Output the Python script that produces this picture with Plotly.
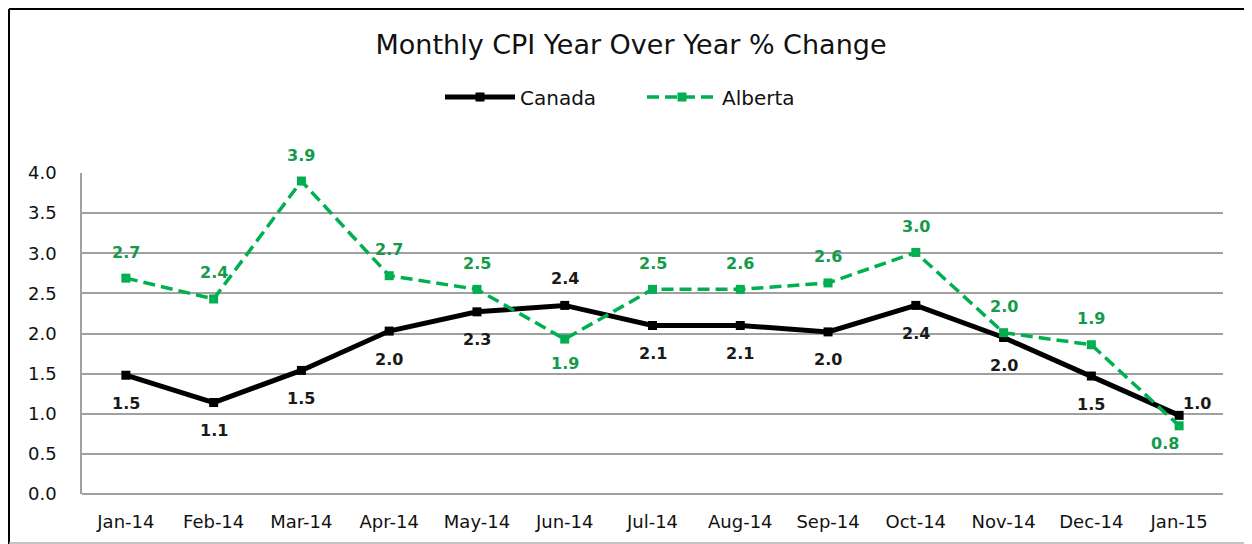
import plotly.graph_objects as go

months = ["Jan-14", "Feb-14", "Mar-14", "Apr-14", "May-14", "Jun-14", "Jul-14",
          "Aug-14", "Sep-14", "Oct-14", "Nov-14", "Dec-14", "Jan-15"]
canada = [1.48, 1.14, 1.54, 2.03, 2.27, 2.35, 2.10, 2.10, 2.02, 2.35, 1.95, 1.47, 0.98]
alberta = [2.69, 2.43, 3.90, 2.72, 2.55, 1.93, 2.55, 2.55, 2.63, 3.01, 2.01, 1.86, 0.85]
canada_labels = ["1.5", "1.1", "1.5", "2.0", "2.3", "2.4", "2.1", "2.1", "2.0", "2.4", "2.0", "1.5", "1.0"]
alberta_labels = ["2.7", "2.4", "3.9", "2.7", "2.5", "1.9", "2.5", "2.6", "2.6", "3.0", "2.0", "1.9", "0.8"]
y_ticks = [0.0, 0.5, 1.0, 1.5, 2.0, 2.5, 3.0, 3.5, 4.0]

FONT = "DejaVu Sans"
GREEN = "#00B050"
GREEN_TXT = "#149A4A"

fig = go.Figure()
fig.add_trace(go.Scatter(
    x=months, y=canada, name="Canada", mode="lines+markers",
    line=dict(color="black", width=5),
    marker=dict(symbol="square", size=9, color="black"),
    cliponaxis=False,
))
fig.add_trace(go.Scatter(
    x=months, y=alberta, name="Alberta", mode="lines+markers",
    line=dict(color=GREEN, width=3.5, dash="12px,6px"),
    marker=dict(symbol="square", size=9, color=GREEN),
    cliponaxis=False,
))

# label placement (pixel shifts) per point
def canada_shift(i):
    if i == 5:
        return (0, 27)
    if i == 12:
        return (18, 12)
    return (0, -28)

def alberta_shift(i):
    if i == 5:
        return (0, -24)
    if i == 12:
        return (-14, -18)
    return (0, 26)

annotations = []
for i, m in enumerate(months):
    dx, dy = canada_shift(i)
    annotations.append(dict(x=m, y=canada[i], text=canada_labels[i], showarrow=False,
                            xshift=dx, yshift=dy,
                            font=dict(family=FONT, size=16, color="#1a1a1a", weight="bold")))
    dx, dy = alberta_shift(i)
    annotations.append(dict(x=m, y=alberta[i], text=alberta_labels[i], showarrow=False,
                            xshift=dx, yshift=dy,
                            font=dict(family=FONT, size=16, color=GREEN_TXT, weight="bold")))

# page is offset by the 8px body margin
OFF = 8
W, H = 1244, 536
L, T = 82 - OFF, 173 - OFF
R = W - (1223 - OFF)
B = H - (494 - OFF)
pw = W - L - R
ph = H - T - B

def px_x(p):
    return (p - OFF - L) / pw

def px_y(p):
    return (H - B - (p - OFF)) / ph

shapes = [
    dict(type="line", xref="paper", yref="paper", x0=px_x(9), x1=px_x(9), y0=px_y(9), y1=px_y(560),
         line=dict(color="black", width=2)),
    dict(type="line", xref="paper", yref="paper", x0=px_x(9), x1=px_x(1300), y0=px_y(9), y1=px_y(9),
         line=dict(color="black", width=2)),
    dict(type="line", xref="paper", yref="paper", x0=px_x(9), x1=px_x(1300), y0=px_y(543), y1=px_y(543),
         line=dict(color="#B0B0B0", width=1.5)),
]

fig.update_layout(
    width=W, height=H,
    margin=dict(l=L, r=R, t=T, b=B),
    paper_bgcolor="white", plot_bgcolor="white",
    font=dict(family=FONT, size=16, color="#111"),
    title=dict(text="Monthly CPI Year Over Year % Change", x=(631 - OFF) / W, xanchor="center",
               y=1 - (45 - OFF) / H, yanchor="middle",
               font=dict(family=FONT, size=27, color="#111")),
    legend=dict(orientation="h", x=px_x(440), xanchor="left", y=px_y(97), yanchor="middle",
                font=dict(family=FONT, size=20, color="#111"), itemwidth=70, entrywidth=117),
    showlegend=True,
    shapes=shapes,
    annotations=annotations,
)
fig.update_xaxes(type="category", range=[-0.5, len(months) - 0.5], showgrid=False, showline=False,
                 ticks="", tickfont=dict(family=FONT, size=18, color="#111"), ticklabelstandoff=15)
fig.update_yaxes(range=[0, 4.0], tickvals=y_ticks, ticktext=[f"{v:.1f}" for v in y_ticks],
                 showgrid=True, gridcolor="#A0A0A0", gridwidth=1.5,
                 showline=True, linecolor="#A0A0A0", linewidth=1.5,
                 zeroline=True, zerolinecolor="#A0A0A0", zerolinewidth=1.5,
                 ticks="", tickfont=dict(family=FONT, size=18, color="#111"),
                 ticklabelstandoff=20)

fig.write_html("out.html")
